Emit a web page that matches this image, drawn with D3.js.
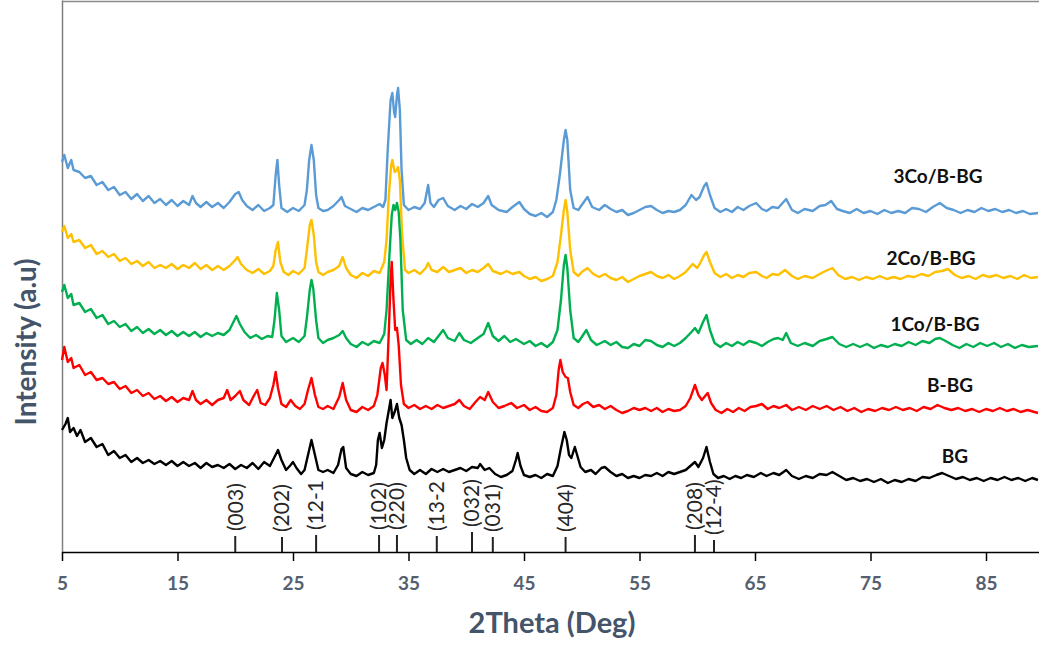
<!DOCTYPE html>
<html>
<head>
<meta charset="utf-8">
<script src="https://cdn.jsdelivr.net/npm/d3@7"></script>
<style>
  html, body { margin: 0; padding: 0; background: #fff; }
  svg { display: block; }
</style>
</head>
<body>
<svg id="chart" width="1039" height="645"></svg>
<script>
// ---------- DATA (2θ in degrees, intensity in arbitrary units, stacked) ----------
const seriesNames = ["3Co/B-BG", "2Co/B-BG", "1Co/B-BG", "B-BG", "BG"];
const xTicks = [5, 15, 25, 35, 45, 55, 65, 75, 85];

const co3 = [[5.0,390],[5.2,397],[5.5,384],[5.8,392],[6.0,382],[6.5,380],[7.0,374],[7.5,376],[8.0,367],[8.5,370],[9.0,362],[9.5,365],[10.0,357],[10.5,360],[11.0,353],[11.5,358],[12.0,351],[12.5,356],[13.0,349],[13.5,353],[14.0,347],[14.5,352],[15.0,346],[15.5,351],[16.0,347],[16.3,356],[16.6,349],[17.0,345],[17.5,350],[18.0,345],[18.5,349],[19.0,344],[19.5,350],[20.0,358],[20.3,360],[20.6,352],[21.0,346],[21.5,342],[22.0,347],[22.5,341],[23.0,344],[23.3,347],[23.5,377],[23.65,392],[23.8,367],[24.0,344],[24.5,340],[25.0,344],[25.5,341],[26.0,347],[26.2,362],[26.4,392],[26.6,407],[26.8,392],[27.0,357],[27.2,344],[27.6,341],[28.0,342],[28.5,346],[29.0,352],[29.2,355],[29.5,346],[30.0,343],[30.5,340],[31.0,344],[31.5,342],[32.0,345],[32.5,348],[32.8,345],[33.0,352],[33.2,402],[33.45,452],[33.6,459],[33.75,440],[33.85,435],[34.0,457],[34.1,464],[34.25,442],[34.4,382],[34.6,347],[35.0,342],[35.5,345],[36.0,343],[36.4,349],[36.7,367],[36.9,349],[37.2,345],[37.6,352],[38.0,354],[38.4,346],[39.0,342],[39.5,346],[40.0,343],[40.5,348],[41.0,345],[41.5,349],[41.9,356],[42.2,347],[42.8,342],[43.5,340],[44.0,345],[44.6,350],[45.0,343],[45.5,338],[46.0,336],[46.5,339],[47.0,335],[47.5,340],[47.8,352],[48.1,377],[48.45,412],[48.6,422],[48.75,412],[49.0,362],[49.3,344],[49.7,342],[50.0,347],[50.5,355],[50.9,345],[51.5,342],[52.0,347],[52.5,343],[53.0,340],[53.5,342],[54.0,337],[54.5,339],[55.0,342],[55.5,345],[56.0,346],[56.5,342],[57.0,339],[57.5,341],[58.0,340],[58.5,342],[59.0,347],[59.5,357],[59.9,352],[60.2,355],[60.6,366],[60.8,369],[61.1,357],[61.5,344],[62.0,340],[62.5,343],[63.0,340],[63.5,345],[64.0,342],[64.5,346],[65.1,349],[65.6,343],[66.0,341],[66.5,345],[67.0,344],[67.7,353],[68.2,342],[68.7,339],[69.3,343],[70.0,341],[70.6,346],[71.1,347],[71.6,351],[72.1,343],[72.6,341],[73.2,339],[73.8,343],[74.4,339],[75.0,341],[75.6,338],[76.2,342],[76.8,339],[77.4,341],[78.0,339],[78.6,344],[79.2,343],[79.8,340],[80.4,345],[81.0,349],[81.6,344],[82.2,342],[82.8,339],[83.4,342],[84.0,340],[84.6,344],[85.2,341],[85.8,343],[86.4,340],[87.0,342],[87.6,339],[88.2,341],[88.8,338],[89.5,339]];

const co2 = [[5.0,320],[5.2,326],[5.5,314],[5.8,318],[6.0,310],[6.5,312],[7.0,304],[7.5,307],[8.0,298],[8.5,301],[9.0,295],[9.5,298],[10.0,291],[10.5,294],[11.0,288],[11.5,291],[12.0,286],[12.5,290],[13.0,284],[13.5,287],[14.0,284],[14.5,288],[15.0,283],[15.5,287],[16.0,284],[16.5,289],[17.0,283],[17.5,287],[18.0,282],[18.5,286],[19.0,282],[19.5,286],[20.0,292],[20.2,295],[20.5,288],[21.0,282],[21.5,279],[22.0,283],[22.5,278],[23.0,281],[23.3,286],[23.5,302],[23.7,310],[23.9,290],[24.2,280],[24.6,277],[25.0,281],[25.5,278],[26.0,284],[26.2,302],[26.45,327],[26.6,332],[26.8,317],[27.0,290],[27.2,280],[27.6,277],[28.0,280],[28.5,282],[29.0,286],[29.3,295],[29.6,284],[30.0,277],[30.5,274],[31.0,279],[31.5,276],[32.0,281],[32.5,279],[32.9,290],[33.1,312],[33.3,357],[33.5,387],[33.6,392],[33.8,380],[34.0,382],[34.1,385],[34.25,372],[34.45,317],[34.7,282],[35.0,279],[35.5,282],[36.0,278],[36.5,284],[36.7,289],[37.0,282],[37.5,280],[38.0,285],[38.5,280],[39.0,282],[39.5,284],[40.0,279],[40.5,282],[41.0,280],[41.5,284],[41.9,288],[42.3,281],[43.0,278],[43.5,281],[44.0,278],[44.6,280],[45.0,276],[45.5,273],[46.0,275],[46.5,271],[47.0,273],[47.5,276],[47.9,290],[48.2,317],[48.45,342],[48.6,352],[48.75,340],[49.0,302],[49.3,280],[49.7,276],[50.0,280],[50.5,284],[51.0,278],[51.5,275],[52.0,278],[52.5,274],[53.0,272],[53.5,275],[54.0,270],[54.5,273],[55.0,276],[55.5,278],[56.0,280],[56.5,276],[57.0,274],[57.5,277],[58.0,273],[58.5,276],[59.0,280],[59.6,288],[60.0,284],[60.3,290],[60.6,297],[60.8,300],[61.1,290],[61.5,279],[62.0,275],[62.5,278],[63.0,274],[63.5,277],[64.0,275],[64.5,279],[65.1,280],[65.6,276],[66.0,274],[66.5,278],[67.0,277],[67.6,282],[68.2,276],[68.7,273],[69.3,276],[70.0,274],[70.6,278],[71.1,281],[71.7,284],[72.2,277],[72.8,273],[73.4,275],[74.0,272],[74.6,275],[75.2,273],[75.8,276],[76.4,273],[77.0,275],[77.6,273],[78.2,276],[78.8,275],[79.4,278],[80.0,276],[80.6,280],[81.2,281],[81.7,283],[82.3,277],[82.9,274],[83.5,276],[84.1,273],[84.7,277],[85.3,275],[85.9,277],[86.5,274],[87.1,276],[87.7,273],[88.3,277],[88.9,274],[89.5,275]];

const co1 = [[5.0,260],[5.2,267],[5.5,254],[5.8,258],[6.0,247],[6.5,249],[7.0,240],[7.5,243],[8.0,234],[8.5,237],[9.0,228],[9.5,231],[10.0,225],[10.5,228],[11.0,221],[11.5,225],[12.0,219],[12.5,223],[13.0,218],[13.5,222],[14.0,217],[14.5,221],[15.0,216],[15.5,220],[16.0,216],[16.5,220],[17.0,215],[17.5,219],[18.0,216],[18.5,219],[19.0,217],[19.5,222],[19.8,229],[20.1,236],[20.4,228],[20.8,220],[21.3,214],[21.8,217],[22.3,213],[22.8,216],[23.2,215],[23.4,232],[23.6,259],[23.8,242],[24.0,216],[24.4,210],[25.0,214],[25.5,210],[26.0,216],[26.2,234],[26.45,262],[26.6,272],[26.75,264],[27.0,232],[27.2,214],[27.6,209],[28.0,212],[28.5,214],[29.0,217],[29.3,221],[29.6,214],[30.0,208],[30.5,205],[31.0,210],[31.5,207],[32.0,211],[32.5,209],[32.9,218],[33.1,242],[33.35,297],[33.55,337],[33.7,347],[33.85,342],[34.0,349],[34.15,340],[34.3,312],[34.5,242],[34.8,212],[35.2,208],[35.7,212],[36.2,208],[36.7,214],[37.2,210],[37.6,216],[38.0,222],[38.4,214],[39.0,211],[39.4,219],[39.8,212],[40.4,209],[41.0,214],[41.5,218],[41.9,229],[42.3,216],[42.8,211],[43.3,216],[43.8,210],[44.3,213],[45.0,208],[45.5,211],[46.0,206],[46.5,209],[47.0,205],[47.5,210],[47.9,222],[48.2,252],[48.45,287],[48.6,297],[48.75,284],[49.0,242],[49.3,214],[49.7,210],[50.0,215],[50.4,222],[50.8,212],[51.3,207],[52.0,211],[52.5,207],[53.0,210],[53.5,205],[54.0,204],[54.5,208],[55.0,206],[55.5,212],[56.0,211],[56.5,207],[57.0,205],[57.5,209],[58.0,206],[58.5,209],[59.0,214],[59.5,220],[59.8,224],[60.1,219],[60.5,230],[60.8,237],[61.1,222],[61.5,209],[62.0,205],[62.5,209],[63.0,206],[63.5,210],[64.0,207],[64.5,211],[65.1,209],[65.6,206],[66.1,210],[66.6,213],[67.0,214],[67.4,212],[67.7,219],[68.1,209],[68.7,206],[69.3,209],[70.0,206],[70.6,211],[71.2,213],[71.7,215],[72.3,208],[72.9,205],[73.5,208],[74.1,205],[74.7,208],[75.3,204],[75.9,207],[76.5,205],[77.1,208],[77.7,206],[78.3,210],[78.9,207],[79.5,211],[80.1,209],[80.6,213],[81.0,214],[81.5,211],[82.1,207],[82.7,204],[83.3,208],[83.9,205],[84.5,209],[85.1,206],[85.7,209],[86.3,205],[86.9,208],[87.5,204],[88.1,207],[88.7,205],[89.5,206]];

const bBg = [[5.0,192],[5.2,205],[5.5,190],[5.8,194],[6.0,184],[6.5,187],[7.0,177],[7.5,180],[8.0,172],[8.5,174],[9.0,168],[9.5,170],[10.0,163],[10.5,166],[11.0,159],[11.5,162],[12.0,156],[12.5,159],[13.0,153],[13.5,156],[14.0,151],[14.5,155],[15.0,150],[15.5,154],[16.0,152],[16.3,161],[16.6,152],[17.0,148],[17.5,152],[18.0,147],[18.5,152],[19.0,154],[19.3,162],[19.6,152],[20.0,156],[20.4,161],[20.7,152],[21.2,147],[21.6,156],[21.9,162],[22.2,149],[22.6,147],[23.0,154],[23.3,167],[23.5,180],[23.7,164],[24.0,148],[24.4,145],[24.8,152],[25.2,146],[25.6,143],[26.0,148],[26.3,162],[26.6,174],[26.9,157],[27.2,145],[27.6,143],[28.0,146],[28.5,143],[29.0,155],[29.3,169],[29.6,152],[30.0,142],[30.5,140],[31.0,145],[31.5,142],[32.0,146],[32.3,157],[32.6,184],[32.75,189],[32.95,177],[33.1,162],[33.3,222],[33.45,272],[33.55,290],[33.7,252],[33.85,222],[34.0,224],[34.15,207],[34.35,167],[34.6,148],[35.0,144],[35.5,147],[36.0,143],[36.5,146],[37.0,143],[37.5,147],[38.0,144],[38.5,146],[39.0,148],[39.4,152],[39.8,146],[40.3,143],[40.8,150],[41.2,155],[41.6,152],[41.9,160],[42.3,150],[42.8,144],[43.3,146],[43.9,149],[44.4,144],[45.0,147],[45.5,142],[46.0,145],[46.5,141],[47.0,140],[47.5,144],[47.8,157],[48.0,182],[48.15,192],[48.35,180],[48.6,175],[48.8,174],[49.0,160],[49.3,147],[49.7,144],[50.1,148],[50.5,150],[51.0,145],[51.5,147],[52.0,143],[52.5,146],[53.0,142],[53.5,139],[54.0,141],[54.5,144],[55.0,142],[55.5,144],[56.0,141],[56.5,144],[57.0,140],[57.5,143],[58.0,141],[58.5,142],[59.0,146],[59.4,154],[59.8,167],[60.1,157],[60.4,152],[60.9,159],[61.2,149],[61.6,142],[62.1,139],[62.6,143],[63.1,140],[63.6,144],[64.1,141],[64.6,145],[65.1,146],[65.6,148],[66.1,143],[66.6,146],[67.1,144],[67.7,147],[68.2,142],[68.8,145],[69.4,142],[70.0,146],[70.6,143],[71.2,146],[71.8,142],[72.4,145],[73.0,141],[73.6,144],[74.2,140],[74.8,143],[75.4,141],[76.0,144],[76.6,142],[77.2,145],[77.8,142],[78.4,144],[79.0,141],[79.6,145],[80.2,143],[80.8,147],[81.4,144],[82.0,142],[82.6,144],[83.2,141],[83.8,143],[84.4,140],[85.0,143],[85.6,141],[86.2,144],[86.8,141],[87.4,143],[88.0,140],[88.6,142],[89.5,139]];

const bg = [[5.0,122],[5.3,128],[5.5,134],[5.7,120],[6.0,124],[6.3,116],[6.6,122],[7.0,110],[7.5,114],[8.0,105],[8.5,108],[9.0,97],[9.5,101],[10.0,94],[10.5,97],[11.0,90],[11.5,94],[12.0,89],[12.5,92],[13.0,88],[13.5,91],[14.0,87],[14.5,91],[15.0,86],[15.5,90],[16.0,86],[16.5,89],[17.0,84],[17.5,89],[18.0,85],[18.5,87],[19.0,84],[19.5,88],[20.0,83],[20.5,87],[21.0,84],[21.5,89],[22.0,83],[22.5,90],[23.0,86],[23.4,95],[23.7,102],[24.0,92],[24.4,82],[24.8,87],[25.0,90],[25.3,84],[25.7,78],[26.0,82],[26.3,97],[26.6,112],[26.9,97],[27.2,82],[27.6,80],[28.0,82],[28.5,79],[28.9,87],[29.2,103],[29.35,105],[29.6,84],[30.0,78],[30.5,76],[31.0,80],[31.5,77],[32.0,79],[32.2,87],[32.35,112],[32.5,119],[32.7,104],[32.9,112],[33.1,129],[33.3,142],[33.45,152],[33.6,134],[33.8,140],[34.0,148],[34.2,134],[34.4,127],[34.6,112],[34.8,94],[35.1,82],[35.5,78],[36.0,82],[36.5,78],[37.0,83],[37.5,80],[38.0,83],[38.5,80],[39.0,82],[39.5,84],[40.0,81],[40.5,85],[41.0,84],[41.2,88],[41.6,82],[42.0,84],[42.5,78],[43.0,75],[43.5,77],[44.0,81],[44.3,92],[44.45,99],[44.7,86],[45.0,77],[45.5,75],[46.0,77],[46.5,74],[47.0,78],[47.5,76],[47.9,86],[48.2,104],[48.5,120],[48.7,112],[48.9,97],[49.1,94],[49.4,105],[49.6,97],[49.9,85],[50.3,80],[50.8,82],[51.2,78],[51.7,84],[52.0,85],[52.5,80],[53.0,76],[53.5,78],[54.0,74],[54.5,76],[55.0,74],[55.5,77],[56.0,76],[56.5,79],[57.0,76],[57.5,80],[58.0,78],[58.5,80],[59.0,82],[59.5,87],[59.8,90],[60.1,85],[60.5,94],[60.8,105],[61.1,90],[61.4,78],[61.8,74],[62.3,76],[62.8,73],[63.3,76],[63.8,74],[64.3,77],[64.9,75],[65.5,79],[66.0,76],[66.6,79],[67.1,77],[67.7,82],[68.2,76],[68.8,73],[69.4,76],[70.0,74],[70.6,78],[71.2,77],[71.7,80],[72.3,76],[72.9,72],[73.5,74],[74.1,71],[74.7,73],[75.3,70],[75.9,73],[76.5,69],[77.1,72],[77.7,70],[78.3,73],[78.9,71],[79.5,75],[80.1,74],[80.7,77],[81.2,79],[81.8,76],[82.4,73],[83.0,75],[83.6,72],[84.2,74],[84.8,71],[85.4,74],[86.0,72],[86.6,75],[87.2,72],[87.8,74],[88.4,71],[89.0,74],[89.5,72]];

// Miller-index reflection markers
const hklLabels = ["(003)", "(202)", "(12-1", "(102)", "(220)", "(13-2", "(032)", "(031)", "(404)", "(208)", "(12-4)"];
const hklTheta  = [20.0, 24.05, 27.0, 32.45, 34.0, 37.45, 40.5, 42.3, 48.6, 59.8, 61.45];

// ---------- STYLE / LAYOUT ----------
const seriesData = [co3, co2, co1, bBg, bg];
const colors = ["#5B9BD5", "#FFC000", "#00B050", "#FF0000", "#000000"];
const labelPos = [[938, 183], [931, 265], [935, 331], [950, 392], [955, 463]];
const hklTextBottom = [531, 532, 530, 530, 530, 531, 527, 532, 532, 530, 535];

const W = 1039, H = 645;
const left = 62, axisY = 552;
const svg = d3.select("#chart");

const x = d3.scaleLinear().domain([5, 90]).range([left, left + 85 * 11.55]);
const y = d3.scaleLinear().domain([0, 552]).range([axisY, 0]);

// top frame line
svg.append("line").attr("x1", left).attr("x2", W).attr("y1", 1.5).attr("y2", 1.5)
  .attr("stroke", "#8c8c8c").attr("stroke-width", 1.5);

// y axis (no ticks)
const yAxis = svg.append("g").attr("transform", `translate(${left},0)`)
  .call(d3.axisLeft(y).tickValues([]).tickSizeOuter(0));
yAxis.select(".domain").attr("stroke", "#7f7f7f").attr("stroke-width", 1.5);

// series lines
const line = d3.line().x(d => x(d[0])).y(d => y(d[1]));
seriesData.forEach((data, i) => {
  svg.append("path").datum(data)
    .attr("fill", "none")
    .attr("stroke", colors[i])
    .attr("stroke-width", 2.4)
    .attr("stroke-linejoin", "round")
    .attr("d", line);
});

// series labels
seriesNames.forEach((name, i) => {
  svg.append("text")
    .attr("x", labelPos[i][0]).attr("y", labelPos[i][1])
    .attr("text-anchor", "middle")
    .attr("font-family", "Lato, 'Open Sans', sans-serif")
    .attr("font-weight", "bold")
    .attr("font-size", 19)
    .attr("fill", "#111")
    .text(name);
});

// x axis
const xAxis = svg.append("g").attr("transform", `translate(0,${axisY})`)
  .call(d3.axisBottom(x).tickValues(xTicks).tickSize(9).tickSizeOuter(0).tickPadding(16)
    .tickFormat(d3.format("d")));
xAxis.select(".domain").attr("stroke", "#000").attr("stroke-width", 1.5);
xAxis.selectAll(".tick line").attr("stroke", "#000").attr("stroke-width", 1.5);
xAxis.selectAll(".tick text")
  .attr("font-family", "Lato, 'Open Sans', sans-serif")
  .attr("font-weight", "bold")
  .attr("font-size", 19)
  .attr("fill", "#55606e");

// reflection markers
const hkl = svg.append("g");
hklLabels.forEach((lab, i) => {
  const px = x(hklTheta[i]);
  hkl.append("line").attr("x1", px).attr("x2", px).attr("y1", hklTextBottom[i] + 5).attr("y2", axisY)
    .attr("stroke", "#222").attr("stroke-width", 2);
  hkl.append("text")
    .attr("transform", `translate(${px},${hklTextBottom[i]}) rotate(-90)`)
    .attr("dy", "0.35em")
    .attr("font-family", "Lato, 'Open Sans', sans-serif")
    .attr("font-size", 21)
    .attr("fill", "#262626")
    .text(lab);
});

// axis titles
svg.append("text")
  .attr("x", 552).attr("y", 633)
  .attr("text-anchor", "middle")
  .attr("font-family", "Lato, 'Open Sans', sans-serif")
  .attr("font-weight", "bold")
  .attr("font-size", 29)
  .attr("fill", "#44546A")
  .text("2Theta (Deg)");

svg.append("text")
  .attr("transform", "translate(36,342) rotate(-90)")
  .attr("text-anchor", "middle")
  .attr("font-family", "Lato, 'Open Sans', sans-serif")
  .attr("font-weight", "bold")
  .attr("font-size", 28)
  .attr("fill", "#44546A")
  .text("Intensity (a.u)");
</script>
</body>
</html>
